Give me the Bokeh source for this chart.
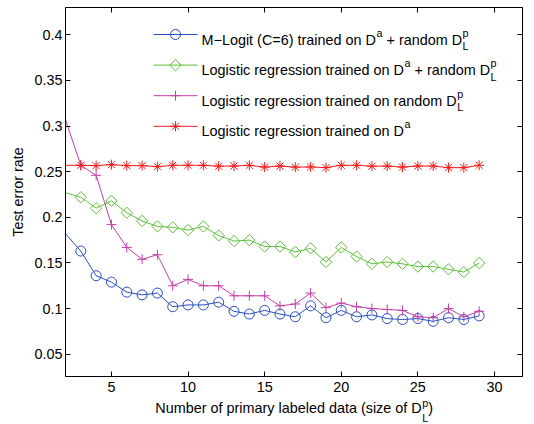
from bokeh.plotting import figure
from bokeh.layouts import column
from bokeh.models import Range1d, LinearAxis, FixedTicker, Label, CustomJSTickFormatter
from bokeh.embed import file_html
from bokeh.resources import INLINE

# ---------------- data ----------------
x_sizes = list(range(2, 30))
mlogit_da_rand = [0.182, 0.163, 0.136, 0.129, 0.118, 0.115, 0.117, 0.102, 0.104, 0.104,
                  0.107, 0.097, 0.094, 0.098, 0.094, 0.091, 0.103, 0.090, 0.098, 0.091,
                  0.093, 0.089, 0.088, 0.089, 0.086, 0.090, 0.088, 0.092]
lr_da_rand = [0.227, 0.222, 0.210, 0.218, 0.205, 0.196, 0.190, 0.189, 0.186, 0.190,
              0.180, 0.174, 0.175, 0.168, 0.168, 0.162, 0.166, 0.151, 0.167, 0.157,
              0.149, 0.151, 0.149, 0.146, 0.146, 0.143, 0.140, 0.150]
lr_rand = [0.307, 0.257, 0.246, 0.192, 0.167, 0.154, 0.159, 0.125, 0.132, 0.125,
           0.125, 0.114, 0.114, 0.114, 0.103, 0.105, 0.117, 0.101, 0.106, 0.102,
           0.100, 0.099, 0.098, 0.091, 0.090, 0.100, 0.091, 0.097]
lr_da = [0.257, 0.257, 0.2566, 0.2577, 0.2566, 0.2566, 0.2555, 0.257, 0.257, 0.257,
         0.256, 0.2562, 0.257, 0.255, 0.2562, 0.255, 0.2552, 0.2544, 0.257, 0.257,
         0.256, 0.2562, 0.255, 0.2562, 0.2562, 0.2544, 0.2544, 0.257]
x_ticks = [5, 10, 15, 20, 25, 30]
y_ticks = [0.05, 0.1, 0.15, 0.2, 0.25, 0.3, 0.35, 0.4]

# ---------------- style / layout ----------------
FONT = "Liberation Sans"
FS = 14.4
SFS = 10.8
W = 534
H_MAIN = 377
H_LAB = 47
ML, MR, MT, MB = 65, 12, 7, 1
X0, X1 = 2.0, 31.83
Y0, Y1 = 0.02556, 0.4299

BLUE = "#2a4fc0"
GREEN = "#5cbf3a"
MAGENTA = "#c43fa6"
RED = "#f41c1c"

FL = ML
FT = MT
FW = W - ML - MR
FH = H_MAIN - MT - MB


def dx(px):
    return X0 + (px - FL) * (X1 - X0) / FW


def dy(py):
    return Y1 - (py - FT) * (Y1 - Y0) / FH


p = figure(width=W, height=H_MAIN, x_range=Range1d(X0, X1), y_range=Range1d(Y0, Y1),
           output_backend="svg", toolbar_location=None,
           min_border_left=ML, min_border_right=MR, min_border_top=MT, min_border_bottom=MB)
p.grid.visible = False
p.outline_line_color = "black"
p.outline_line_width = 1
p.background_fill_color = "white"
p.border_fill_color = "white"

bottom_ax = p.below[0]
left_ax = p.left[0]
bottom_ax.ticker = FixedTicker(ticks=x_ticks)
bottom_ax.formatter = CustomJSTickFormatter(code="return '';")
left_ax.ticker = FixedTicker(ticks=y_ticks)
left_ax.formatter = CustomJSTickFormatter(code="return String(parseFloat(tick.toFixed(2)));")

top_ax = LinearAxis(ticker=FixedTicker(ticks=x_ticks),
                    formatter=CustomJSTickFormatter(code="return '';"))
right_ax = LinearAxis(ticker=FixedTicker(ticks=y_ticks),
                      formatter=CustomJSTickFormatter(code="return '';"))
p.add_layout(top_ax, "above")
p.add_layout(right_ax, "right")

for ax in [bottom_ax, left_ax, top_ax, right_ax]:
    ax.axis_line_color = "black"
    ax.axis_line_width = 1
    ax.major_tick_in = 5
    ax.major_tick_out = 0
    ax.major_tick_line_color = "black"
    ax.minor_tick_line_color = None
    ax.major_label_text_font = FONT
    ax.major_label_text_font_size = f"{FS}px"
    ax.major_label_text_color = "black"

for ax in [top_ax, right_ax, bottom_ax]:
    ax.major_label_standoff = 0
    ax.major_label_text_font_size = "0px"

left_ax.major_label_standoff = 3
left_ax.axis_label = "Test error rate"
left_ax.axis_label_text_font = FONT
left_ax.axis_label_text_font_size = f"{FS}px"
left_ax.axis_label_text_font_style = "normal"
left_ax.axis_label_text_color = "black"
left_ax.axis_label_standoff = 5

# ---------------- series ----------------
series = [
    (mlogit_da_rand, BLUE, dict(marker="circle", size=10)),
    (lr_da_rand, GREEN, dict(marker="square", size=8, angle=0.7853981634)),
    (lr_rand, MAGENTA, dict(marker="cross", size=10)),
    (lr_da, RED, dict(marker="asterisk", size=10)),
]
for ys, col, mk in series:
    p.line(x_sizes, ys, line_color=col, line_width=1)
    p.scatter(x_sizes[1:], ys[1:], line_color=col, fill_color=None, line_width=1, **mk)

# ---------------- second strip: x tick labels + x axis label ----------------
q = figure(width=W, height=H_LAB, x_range=p.x_range, y_range=Range1d(0, 1),
           output_backend="svg", toolbar_location=None,
           x_axis_location=None, y_axis_location=None,
           min_border_left=ML, min_border_right=MR, min_border_top=20, min_border_bottom=0)
q.grid.visible = False
q.outline_line_color = None
q.background_fill_color = "white"
q.border_fill_color = "white"
lab_ax = LinearAxis(ticker=FixedTicker(ticks=x_ticks))
lab_ax.axis_line_color = None
lab_ax.major_tick_line_color = None
lab_ax.minor_tick_line_color = None
lab_ax.major_label_standoff = 0
lab_ax.major_label_text_font = FONT
lab_ax.major_label_text_font_size = f"{FS}px"
lab_ax.major_label_text_color = "black"
q.add_layout(lab_ax, "above")

# ---------------- rich text helper ----------------
CW = {' ': 278, 'a': 556, 'b': 556, 'c': 500, 'd': 556, 'e': 556, 'f': 278, 'g': 556,
      'h': 556, 'i': 222, 'j': 222, 'k': 500, 'l': 222, 'm': 833, 'n': 556, 'o': 556,
      'p': 556, 'q': 556, 'r': 333, 's': 500, 't': 278, 'u': 556, 'v': 500, 'w': 722,
      'x': 500, 'y': 500, 'z': 500, 'D': 722, 'L': 556, 'M': 833, 'C': 722, 'N': 722,
      'T': 611, '(': 333, ')': 333, '=': 584, '+': 584, '6': 556, '\u2212': 584,
      '-': 333, '.': 278}


def tw(s, size):
    return sum(CW.get(ch, 556) for ch in s) * size / 1000.0


def add_text(fig, bottom_page, text, px, py, size):
    lead = len(text) - len(text.lstrip(" "))
    px += tw(" " * lead, size)
    fig.add_layout(Label(x=px - FL, y=bottom_page - py, x_units="screen", y_units="screen",
                         text=text.strip(" "), text_font=FONT, text_font_size=f"{size}px",
                         text_color="black", text_align="left", text_baseline="alphabetic"))


def rich(fig, bottom_page, parts, px, base, align="left", sup_raise=7.0, sub_drop=6.5):
    widths = []
    for part in parts:
        if part[0] == "n":
            widths.append(tw(part[1], FS))
        elif part[0] == "sup":
            widths.append(tw(part[1], SFS))
        else:
            widths.append(max(tw(part[1], SFS), tw(part[2], SFS)))
    if align == "center":
        px -= sum(widths) / 2.0
    for part, w in zip(parts, widths):
        if part[0] == "n":
            add_text(fig, bottom_page, part[1], px, base, FS)
        elif part[0] == "sup":
            add_text(fig, bottom_page, part[1], px + 0.5, base - sup_raise, SFS)
        else:
            add_text(fig, bottom_page, part[1], px + 0.5, base - sup_raise, SFS)
            add_text(fig, bottom_page, part[2], px + 0.5, base + sub_drop, SFS)
        px += w + (0.5 if part[0] != "n" else 0)


# ---------------- legend (manual) ----------------
legend_rows = [
    [("n", "M\u2212Logit (C=6) trained on D"), ("sup", "a"), ("n", " + random D"), ("ss", "p", "L")],
    [("n", "Logistic regression trained on D"), ("sup", "a"), ("n", " + random D"), ("ss", "p", "L")],
    [("n", "Logistic regression trained on random D"), ("ss", "p", "L")],
    [("n", "Logistic regression trained on D"), ("sup", "a")],
]
LEG_X0, LEG_X1, LEG_MX, LEG_TX = 153, 197, 175, 201
LEG_Y, LEG_DY = 34, 30.6
for i, ((ys, col, mk), row) in enumerate(zip(series, legend_rows)):
    ry = LEG_Y + i * LEG_DY
    p.line([dx(LEG_X0), dx(LEG_X1)], [dy(ry), dy(ry)], line_color=col, line_width=1)
    p.scatter([dx(LEG_MX)], [dy(ry)], line_color=col, fill_color=None, line_width=1, **mk)
    rich(p, FT + FH, row, LEG_TX, ry + 5.0)

# ---------------- x axis label ----------------
rich(q, H_MAIN + H_LAB, [("n", "Number of primary labeled data (size of D"), ("ss", "p", "L"), ("n", ")")],
     FL + FW / 2.0, 407, align="center", sup_raise=5.0, sub_drop=10.0)

layout = column(p, q, spacing=0)
open("out.html", "w").write(file_html(layout, INLINE))
